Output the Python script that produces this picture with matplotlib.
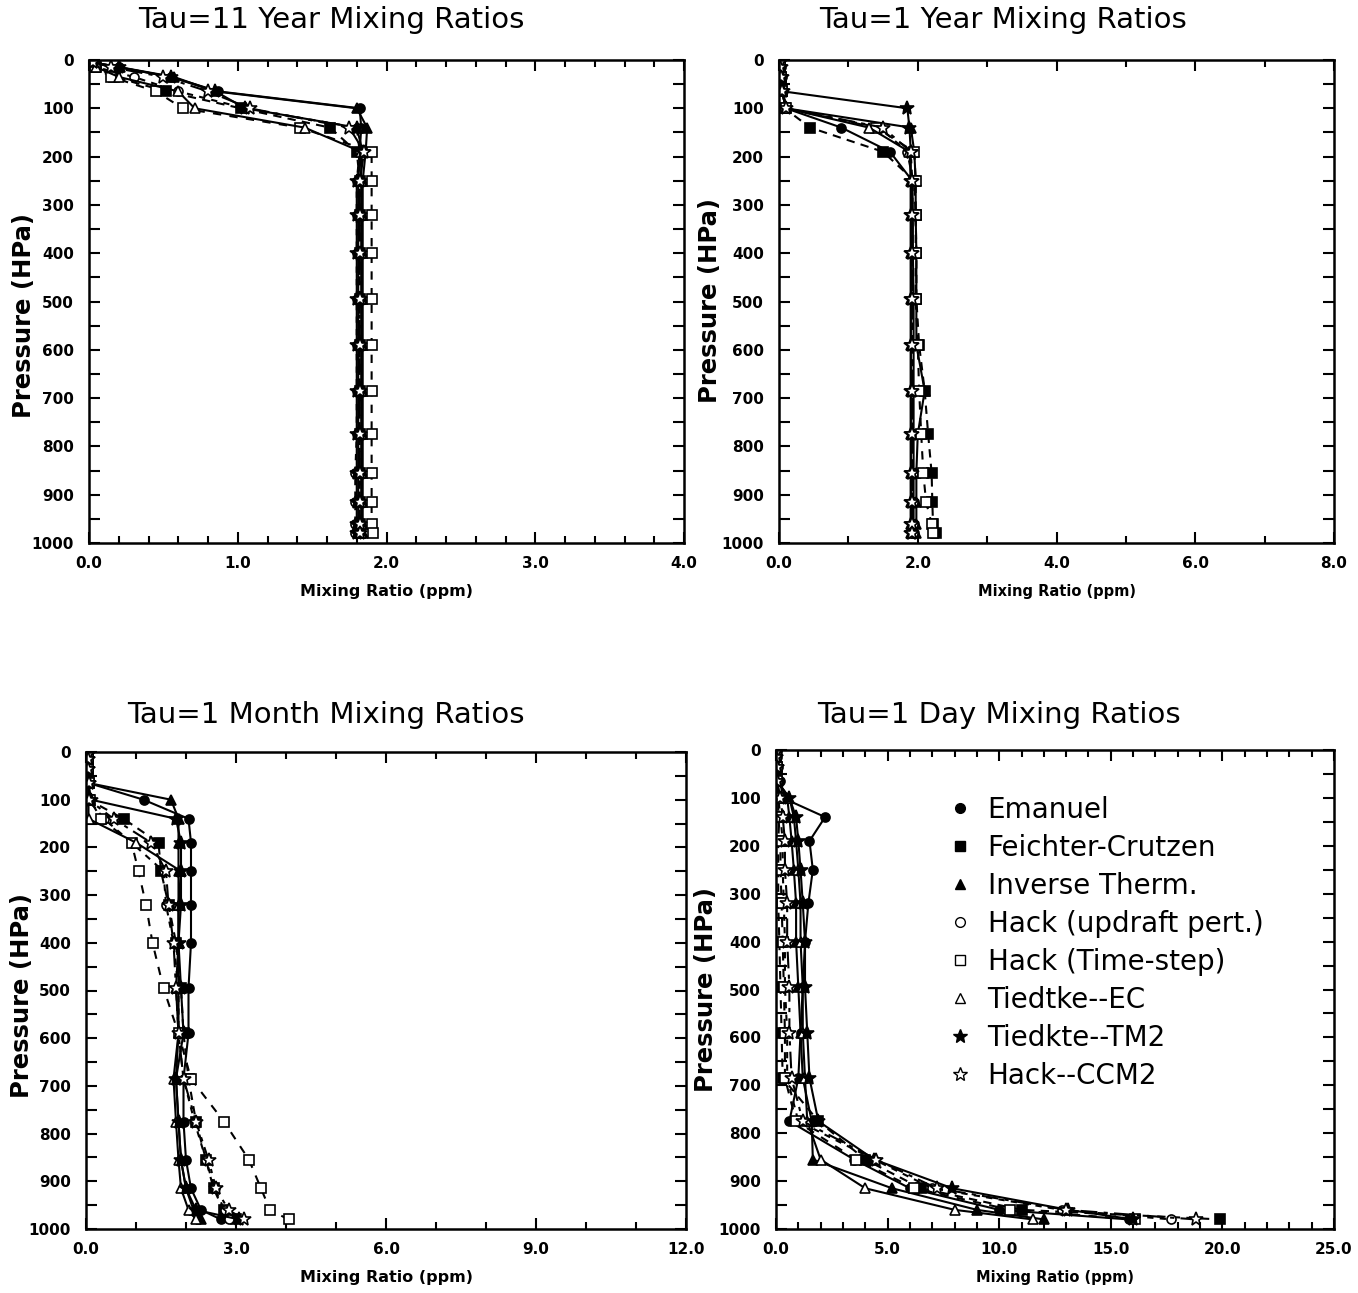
#!/usr/bin/env python3
"""Vertical tracer mixing-ratio profiles for eight convection schemes."""

import matplotlib
matplotlib.use("Agg")
import matplotlib.pyplot as plt
from matplotlib.lines import Line2D
from matplotlib.ticker import MultipleLocator, FormatStrFormatter

plt.rcParams["font.family"] = ["DejaVu Sans"]

W, H = 1358, 1293

# pressure levels (hPa) shared by all schemes
levels = [5, 15, 35, 65, 100, 140, 190, 250, 320, 400, 495, 590, 685, 775, 855, 915, 960, 980]

models = ["Emanuel", "Feichter-Crutzen", "Inverse Therm.", "Hack (updraft pert.)",
          "Hack (Time-step)", "Tiedtke--EC", "Tiedkte--TM2", "Hack--CCM2"]

# Tau = 11 years
tau11_emanuel = [0.03, 0.20, 0.55, 0.87, 1.82, 1.83, 1.82, 1.81, 1.81, 1.81, 1.81, 1.81, 1.81, 1.81, 1.81, 1.81, 1.81, 1.81]
tau11_feichter = [0.03, 0.05, 0.17, 0.52, 1.02, 1.62, 1.80, 1.82, 1.82, 1.82, 1.82, 1.82, 1.82, 1.82, 1.82, 1.82, 1.82, 1.82]
tau11_inverse = [0.03, 0.21, 0.57, 0.85, 1.80, 1.87, 1.86, 1.84, 1.84, 1.84, 1.84, 1.84, 1.84, 1.84, 1.84, 1.84, 1.84, 1.84]
tau11_hack_up = [0.03, 0.05, 0.30, 0.60, 1.05, 1.80, 1.82, 1.80, 1.80, 1.80, 1.80, 1.80, 1.80, 1.80, 1.79, 1.79, 1.79, 1.79]
tau11_hack_ts = [0.03, 0.04, 0.15, 0.45, 0.63, 1.42, 1.90, 1.90, 1.90, 1.90, 1.90, 1.90, 1.90, 1.90, 1.90, 1.90, 1.90, 1.91]
tau11_tiedtke_ec = [0.03, 0.05, 0.20, 0.60, 0.71, 1.45, 1.83, 1.83, 1.83, 1.83, 1.83, 1.83, 1.83, 1.83, 1.83, 1.83, 1.83, 1.83]
tau11_tm2 = [0.03, 0.20, 0.55, 0.85, 1.05, 1.80, 1.84, 1.80, 1.80, 1.80, 1.80, 1.80, 1.80, 1.80, 1.80, 1.80, 1.80, 1.80]
tau11_ccm2 = [0.03, 0.15, 0.50, 0.80, 1.08, 1.75, 1.85, 1.82, 1.82, 1.82, 1.82, 1.82, 1.82, 1.82, 1.82, 1.82, 1.82, 1.82]

# Tau = 1 year
tau1y_emanuel = [0.02, 0.03, 0.04, 0.06, 0.10, 0.90, 1.60, 1.92, 1.93, 1.93, 1.94, 1.94, 1.94, 1.94, 1.94, 1.94, 1.94, 1.94]
tau1y_feichter = [0.02, 0.02, 0.03, 0.05, 0.08, 0.45, 1.50, 1.95, 1.97, 1.98, 1.98, 2.02, 2.10, 2.15, 2.20, 2.21, 2.22, 2.26]
tau1y_inverse = [0.02, 0.02, 0.03, 0.05, 0.10, 1.90, 1.95, 1.97, 1.97, 1.98, 1.98, 1.98, 2.10, 2.00, 1.98, 1.98, 1.98, 1.98]
tau1y_hack_up = [0.02, 0.02, 0.03, 0.05, 0.10, 1.45, 1.85, 1.93, 1.92, 1.92, 1.93, 1.93, 1.93, 1.93, 1.93, 1.93, 1.93, 1.93]
tau1y_hack_ts = [0.02, 0.02, 0.03, 0.05, 0.10, 1.40, 1.95, 1.97, 1.97, 1.97, 1.97, 2.00, 2.02, 2.05, 2.08, 2.12, 2.20, 2.22]
tau1y_tiedtke_ec = [0.02, 0.02, 0.03, 0.05, 0.10, 1.30, 1.88, 1.90, 1.90, 1.90, 1.90, 1.90, 1.90, 1.90, 1.90, 1.90, 1.90, 1.90]
tau1y_tm2 = [0.02, 0.03, 0.04, 0.06, 1.85, 1.88, 1.90, 1.90, 1.90, 1.90, 1.90, 1.90, 1.90, 1.90, 1.90, 1.90, 1.90, 1.90]
tau1y_ccm2 = [0.02, 0.02, 0.03, 0.05, 0.10, 1.50, 1.90, 1.92, 1.92, 1.92, 1.92, 1.92, 1.92, 1.92, 1.92, 1.92, 1.92, 1.92]

# Tau = 1 month
tau1m_emanuel = [0.03, 0.03, 0.03, 0.05, 1.15, 2.05, 2.10, 2.10, 2.10, 2.10, 2.05, 2.05, 1.95, 1.95, 2.00, 2.10, 2.30, 2.70]
tau1m_feichter = [0.03, 0.03, 0.03, 0.05, 0.05, 0.75, 1.45, 1.50, 1.65, 1.80, 1.90, 1.95, 2.05, 2.20, 2.40, 2.55, 2.75, 3.00]
tau1m_inverse = [0.03, 0.03, 0.03, 0.05, 1.70, 1.85, 1.85, 1.85, 1.85, 1.85, 1.85, 1.85, 1.80, 1.85, 1.90, 2.00, 2.15, 2.30]
tau1m_hack_up = [0.03, 0.03, 0.03, 0.05, 0.05, 0.36, 0.91, 1.55, 1.60, 1.75, 1.85, 1.85, 1.95, 2.17, 2.40, 2.57, 2.77, 2.85]
tau1m_hack_ts = [0.03, 0.03, 0.03, 0.05, 0.08, 0.30, 0.91, 1.05, 1.20, 1.33, 1.55, 1.85, 2.10, 2.76, 3.26, 3.50, 3.68, 4.05]
tau1m_tiedtke_ec = [0.03, 0.03, 0.03, 0.05, 0.05, 0.05, 1.00, 1.90, 1.85, 1.85, 1.80, 1.85, 1.75, 1.80, 1.85, 1.90, 2.05, 2.20]
tau1m_tm2 = [0.03, 0.03, 0.03, 0.05, 0.10, 1.80, 1.90, 1.90, 1.90, 1.85, 1.90, 1.95, 1.80, 1.85, 1.90, 2.00, 2.20, 3.06]
tau1m_ccm2 = [0.03, 0.03, 0.03, 0.05, 0.05, 0.55, 1.30, 1.60, 1.65, 1.75, 1.80, 1.85, 1.95, 2.20, 2.45, 2.60, 2.85, 3.16]

# Tau = 1 day
tau1d_emanuel = [0.05, 0.05, 0.10, 0.20, 0.30, 2.20, 1.50, 1.65, 1.45, 1.30, 1.20, 1.10, 1.00, 0.60, 3.50, 6.00, 10.0, 15.8]
tau1d_feichter = [0.02, 0.02, 0.03, 0.05, 0.10, 0.15, 0.10, 0.10, 0.10, 0.15, 0.20, 0.25, 0.30, 1.90, 4.00, 6.50, 11.0, 19.9]
tau1d_inverse = [0.02, 0.02, 0.05, 0.10, 0.50, 0.60, 0.70, 0.80, 0.90, 0.90, 1.00, 1.10, 1.20, 1.60, 1.65, 5.20, 9.00, 12.0]
tau1d_hack_up = [0.02, 0.02, 0.03, 0.05, 0.10, 0.20, 0.30, 0.30, 0.35, 0.40, 0.40, 0.50, 0.50, 1.00, 4.40, 7.00, 12.8, 17.7]
tau1d_hack_ts = [0.02, 0.02, 0.03, 0.05, 0.10, 0.10, 0.20, 0.20, 0.25, 0.30, 0.35, 0.40, 0.40, 0.90, 3.60, 6.20, 10.5, 16.1]
tau1d_tiedtke_ec = [0.02, 0.02, 0.03, 0.05, 0.60, 0.80, 0.90, 1.00, 1.10, 1.10, 1.20, 1.20, 1.30, 1.40, 2.00, 4.00, 8.00, 11.5]
tau1d_tm2 = [0.02, 0.02, 0.03, 0.05, 0.60, 0.90, 1.00, 1.10, 1.20, 1.30, 1.30, 1.40, 1.50, 1.90, 4.40, 7.90, 13.1, 16.0]
tau1d_ccm2 = [0.02, 0.02, 0.03, 0.05, 0.20, 0.30, 0.40, 0.40, 0.50, 0.50, 0.60, 0.60, 0.70, 1.20, 4.50, 7.20, 13.0, 18.8]

# marker, face colour, line style for each scheme (in models order)
styles = [
    ("o", "black", "-"),
    ("s", "black", (0, (4, 3))),
    ("^", "black", "-"),
    ("o", "white", (0, (3, 3))),
    ("s", "white", (0, (4, 4))),
    ("^", "white", "-"),
    ("*", "black", "-"),
    ("*", "white", (0, (8, 3, 2, 3))),
]

panels = [
    dict(title="Tau=11 Year Mixing Ratios",
         data=[tau11_emanuel, tau11_feichter, tau11_inverse, tau11_hack_up,
               tau11_hack_ts, tau11_tiedtke_ec, tau11_tm2, tau11_ccm2],
         xmax=4.0, major=1.0, minor=0.2,
         box=(89, 684, 60, 543), title_x=331, title_y=20, xl_size=11.5, yl_x=24, yl_y=315),
    dict(title="Tau=1 Year Mixing Ratios",
         data=[tau1y_emanuel, tau1y_feichter, tau1y_inverse, tau1y_hack_up,
               tau1y_hack_ts, tau1y_tiedtke_ec, tau1y_tm2, tau1y_ccm2],
         xmax=8.0, major=2.0, minor=1.0,
         box=(779, 1334, 60, 543), title_x=1003, title_y=20, xl_size=10.5, yl_x=710, yl_y=300),
    dict(title="Tau=1 Month Mixing Ratios",
         data=[tau1m_emanuel, tau1m_feichter, tau1m_inverse, tau1m_hack_up,
               tau1m_hack_ts, tau1m_tiedtke_ec, tau1m_tm2, tau1m_ccm2],
         xmax=12.0, major=3.0, minor=1.0,
         box=(86, 686, 752, 1229), title_x=326, title_y=715, xl_size=11.5, yl_x=22, yl_y=995),
    dict(title="Tau=1 Day Mixing Ratios",
         data=[tau1d_emanuel, tau1d_feichter, tau1d_inverse, tau1d_hack_up,
               tau1d_hack_ts, tau1d_tiedtke_ec, tau1d_tm2, tau1d_ccm2],
         xmax=25.0, major=5.0, minor=1.0,
         box=(776, 1334, 750, 1229), title_x=999, title_y=715, xl_size=10.5, yl_x=706, yl_y=990),
]


def main():
    fig = plt.figure(figsize=(W / 100, H / 100), dpi=100)

    for p in panels:
        left, right, top, bottom = p["box"]
        ax = fig.add_axes([left / W, 1 - bottom / H, (right - left) / W, (bottom - top) / H])

        for vals, (mk, face, ls) in zip(p["data"], styles):
            ms = 10 if mk == "*" else 6.5
            ax.plot(vals, levels, color="black", linestyle=ls, linewidth=1.5,
                    marker=mk, markersize=ms, markerfacecolor=face,
                    markeredgecolor="black", markeredgewidth=1.2)

        ax.set_xlim(0, p["xmax"])
        ax.set_ylim(1000, 0)
        ax.xaxis.set_major_locator(MultipleLocator(p["major"]))
        ax.xaxis.set_minor_locator(MultipleLocator(p["minor"]))
        ax.xaxis.set_major_formatter(FormatStrFormatter("%.1f"))
        ax.yaxis.set_major_locator(MultipleLocator(100))
        ax.yaxis.set_minor_locator(MultipleLocator(50))

        ax.tick_params(which="both", direction="in", top=True, right=True,
                       width=1.5, labelsize=11)
        ax.tick_params(axis="x", which="major", length=8, pad=9)
        ax.tick_params(axis="x", which="minor", length=5)
        ax.tick_params(axis="y", which="both", length=8, pad=11)
        for lab in ax.get_xticklabels() + ax.get_yticklabels():
            lab.set_fontweight("bold")
        for sp in ax.spines.values():
            sp.set_linewidth(1.8)

        ax.set_xlabel("Mixing Ratio (ppm)", fontsize=p["xl_size"], fontweight="bold", labelpad=10)

        fig.text(p["yl_x"] / W, 1 - p["yl_y"] / H, "Pressure (HPa)", rotation=90,
                 fontsize=17.5, fontweight="bold", ha="center", va="center")
        fig.text(p["title_x"] / W, 1 - p["title_y"] / H, p["title"],
                 fontsize=21, ha="center", va="center")

    # legend with markers only, inside the Tau=1 day panel
    handles = [Line2D([], [], linestyle="none", marker=mk, markersize=(10 if mk == "*" else 7),
                      markerfacecolor=face, markeredgecolor="black", markeredgewidth=1.0,
                      color="black")
               for mk, face, ls in styles]
    fig.legend(handles, models, loc="upper left",
               bbox_to_anchor=(932 / W, 1 - 782 / H), frameon=False,
               fontsize=20, handlelength=1.0, handletextpad=0.5, labelspacing=0.36,
               borderpad=0)

    fig.savefig("out.png", dpi=100)


if __name__ == "__main__":
    main()
